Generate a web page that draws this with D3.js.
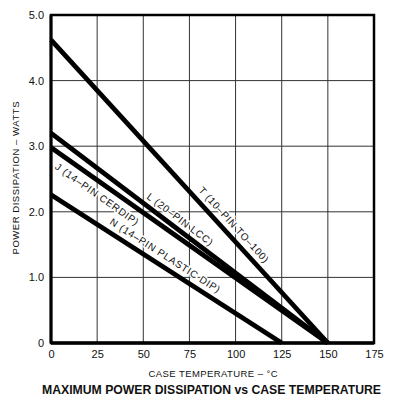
<!DOCTYPE html>
<html><head><meta charset="utf-8">
<script src="https://cdn.jsdelivr.net/npm/d3@7"></script>
<style>
html,body{margin:0;padding:0;background:#fff;}
svg text{font-family:"Liberation Sans",Arial,Helvetica,sans-serif;fill:#111;}
</style></head>
<body>
<svg id="c" width="394" height="398"></svg>
<script>
// ---- data ----
const xTicks = [0, 25, 50, 75, 100, 125, 150, 175];
const yTicks = [0, 1, 2, 3, 4, 5];
const yTickLabels = ["0", "1.0", "2.0", "3.0", "4.0", "5.0"];
const seriesNames = ["T", "L", "J", "N"];
const seriesLabels = ["T (10–PIN TO–100)", "L (20–PIN LCC)", "J (14–PIN CERDIP)", "N (14–PIN PLASTIC DIP)"];
const startTemp = [0, 0, 0, 0];
const startPower = [4.62, 3.2, 2.98, 2.26];
const endTemp = [150, 150, 150, 125];
const endPower = [0, 0, 0, 0];
// label anchor (temperature along the line) and side
const labelTemp = [95, 67, 28.6, 58.8];
const labelSide = [-1, -1, 1, -1];
const labelOffset = [10.3, 9.3, 11.6, 10.6];

const xTitle = "CASE  TEMPERATURE  –  °C";
const yTitle = "POWER  DISSIPATION  –  WATTS";
const caption = "MAXIMUM POWER DISSIPATION vs CASE TEMPERATURE";

// ---- layout ----
const svg = d3.select("#c");
const L = 51, R = 374, T = 15, B = 343;
const x = d3.scaleLinear().domain([0, 175]).range([L, R]);
const y = d3.scaleLinear().domain([0, 5]).range([B, T]);

// grid
const g = svg.append("g");
g.selectAll(".vg").data(xTicks.slice(1, -1)).join("line")
  .attr("x1", d => x(d)).attr("x2", d => x(d)).attr("y1", T).attr("y2", B)
  .attr("stroke", "#333").attr("stroke-width", 1);
g.selectAll(".hg").data(yTicks.slice(1, -1)).join("line")
  .attr("x1", L).attr("x2", R).attr("y1", d => y(d)).attr("y2", d => y(d))
  .attr("stroke", "#333").attr("stroke-width", 1);

// axes (tick labels only)
const xAxis = d3.axisBottom(x).tickValues(xTicks).tickSize(0).tickPadding(7).tickFormat(d => String(d));
const ax = svg.append("g").attr("transform", `translate(0,${B})`).call(xAxis);
ax.select(".domain").remove();
ax.selectAll("text").attr("font-size", 11).attr("font-family", "Liberation Sans, Arial, sans-serif").attr("fill", "#111");

const yAxis = d3.axisLeft(y).tickValues(yTicks).tickSize(0).tickPadding(7).tickFormat((d, i) => yTickLabels[i]);
const ay = svg.append("g").attr("transform", `translate(${L},0)`).call(yAxis);
ay.select(".domain").remove();
ay.selectAll("text").attr("font-size", 11).attr("font-family", "Liberation Sans, Arial, sans-serif").attr("fill", "#111");

// labels along lines (drawn before lines so halos only break the grid)
seriesNames.forEach((n, i) => {
  const x0 = x(startTemp[i]), y0 = y(startPower[i]);
  const x1 = x(endTemp[i]), y1 = y(endPower[i]);
  const ang = Math.atan2(y1 - y0, x1 - x0);
  const t = labelTemp[i];
  const pv = startPower[i] + (endPower[i] - startPower[i]) * (t - startTemp[i]) / (endTemp[i] - startTemp[i]);
  const px = x(t), py = y(pv);
  const nx = -Math.sin(ang), ny = Math.cos(ang);
  const cx = px + nx * labelSide[i] * labelOffset[i];
  const cy = py + ny * labelSide[i] * labelOffset[i];
  svg.append("text")
    .attr("transform", `translate(${cx},${cy}) rotate(${ang * 180 / Math.PI})`)
    .attr("text-anchor", "middle").attr("dominant-baseline", "central")
    .attr("font-size", 10).attr("letter-spacing", 0.7)
    .attr("stroke", "#fff").attr("stroke-width", 3).attr("paint-order", "stroke")
    .text(seriesLabels[i]);
});

// series lines
const lineGen = d3.line().x(d => x(d[0])).y(d => y(d[1]));
const seriesData = seriesNames.map((n, i) => [[startTemp[i], startPower[i]], [endTemp[i], endPower[i]]]);
svg.append("g").selectAll("path").data(seriesData).join("path")
  .attr("d", lineGen).attr("fill", "none").attr("stroke", "#000")
  .attr("stroke-width", 4.8).attr("stroke-linecap", "butt");

// frame
svg.append("rect").attr("x", L).attr("y", T).attr("width", R - L).attr("height", B - T)
  .attr("fill", "none").attr("stroke", "#000").attr("stroke-width", 2.5);
svg.append("line").attr("x1", L).attr("x2", R).attr("y1", B).attr("y2", B)
  .attr("stroke", "#000").attr("stroke-width", 3.5);
svg.append("line").attr("x1", L).attr("x2", L).attr("y1", T).attr("y2", B)
  .attr("stroke", "#000").attr("stroke-width", 3);

// titles
svg.append("text").attr("x", 213).attr("y", 377).attr("text-anchor", "middle")
  .attr("font-size", 9.5).attr("textLength", 129).attr("lengthAdjust", "spacing").text(xTitle);
svg.append("text").attr("transform", "translate(19,178) rotate(-90)").attr("text-anchor", "middle")
  .attr("font-size", 9.5).attr("textLength", 153).attr("lengthAdjust", "spacing").text(yTitle);
svg.append("text").attr("x", 211.5).attr("y", 394).attr("text-anchor", "middle")
  .attr("font-size", 12.5).attr("font-weight", "bold").attr("textLength", 339).attr("lengthAdjust", "spacingAndGlyphs").text(caption);
</script>
</body></html>
